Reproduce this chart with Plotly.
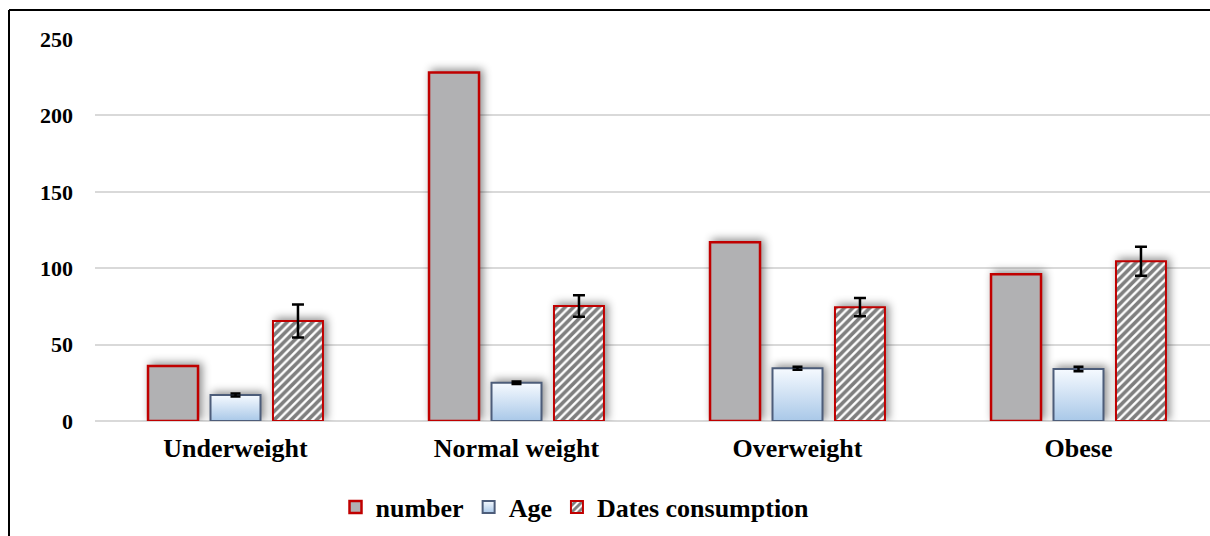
import plotly.graph_objects as go

categories = ["Underweight", "Normal weight", "Overweight", "Obese"]
number_vals = [36, 228, 117, 96]
age_vals = [17, 25, 34.5, 34]
age_err = [1, 0.8, 1, 1.5]
dates_vals = [65.5, 75.3, 74.5, 104.5]
dates_err = [10.8, 7, 6, 9.5]
y_ticks = [0, 50, 100, 150, 200, 250]

FONT = "Liberation Serif, Times New Roman, serif"
W, H = 1210, 536
L, R, T, B = 95, 0, 39, 115
pw, ph = W - L - R, H - T - B

def px(x):
    return (x - L) / pw

def py(y):
    return (H - B - y) / ph

fig = go.Figure()
fig.add_trace(go.Bar(
    name="number", x=categories, y=number_vals,
    marker=dict(color="#b1b1b3", line=dict(color="#c00000", width=2.5)),
))
fig.add_trace(go.Bar(
    name="Age", x=categories, y=age_vals,
    marker=dict(color="#d3e3f4", line=dict(color="#4d5d7a", width=2)),
    error_y=dict(type="data", array=age_err, color="black", thickness=2.5, width=5),
))
fig.add_trace(go.Bar(
    name="Dates consumption", x=categories, y=dates_vals,
    marker=dict(color="white", line=dict(color="#c00000", width=2),
                pattern=dict(shape="/", fgcolor="black", bgcolor="white", size=6, solidity=0.6)),
    error_y=dict(type="data", array=dates_err, color="black", thickness=2.5, width=6),
))

fig.update_layout(
    width=W, height=H,
    margin=dict(l=L, r=R, t=T, b=B),
    paper_bgcolor="white", plot_bgcolor="white",
    barmode="group", bargap=0.333, bargroupgap=0.2,
    font=dict(family=FONT, color="black"),
    legend=dict(orientation="h", x=px(575), xanchor="center", y=py(507), yanchor="middle",
                font=dict(family=FONT, size=26, weight="bold", color="black"),
                itemwidth=30, tracegroupgap=0),
    xaxis=dict(range=[-0.5, 3.468], showgrid=False, showline=False, ticks="", ticklabelstandoff=9,
               tickfont=dict(family=FONT, size=26, weight="bold", color="black")),
    yaxis=dict(range=[0, 250], tickvals=y_ticks, showgrid=True, gridcolor="#d9d9d9", gridwidth=1.5,
               zeroline=True, zerolinecolor="#d9d9d9", zerolinewidth=1.5, showline=False, ticks="",
               ticklabelstandoff=21,
               tickfont=dict(family=FONT, size=22, weight="bold", color="black")),
    shapes=[
        dict(type="line", xref="paper", yref="paper", x0=px(9), x1=px(1215), y0=py(10), y1=py(10),
             line=dict(color="black", width=2)),
        dict(type="line", xref="paper", yref="paper", x0=px(9), x1=px(9), y0=py(10), y1=py(540),
             line=dict(color="black", width=2)),
    ],
)

post = """
(function(){
  function fix(){
    document.body.style.margin='0';
    var gd=document.getElementById('{plot_id}');
    if(!gd) return;
    var svg=gd.querySelector('svg.main-svg');
    var defs=svg.querySelector('defs');
    var ns='http://www.w3.org/2000/svg';
    if(!document.getElementById('ageGrad')){
      var lg=document.createElementNS(ns,'linearGradient');
      lg.setAttribute('id','ageGrad');
      lg.setAttribute('x1','0');lg.setAttribute('y1','0');
      lg.setAttribute('x2','0');lg.setAttribute('y2','1');
      var s1=document.createElementNS(ns,'stop');
      s1.setAttribute('offset','0');s1.setAttribute('stop-color','#f6faff');
      var s2=document.createElementNS(ns,'stop');
      s2.setAttribute('offset','1');s2.setAttribute('stop-color','#a9c8e8');
      lg.appendChild(s1);lg.appendChild(s2);
      defs.appendChild(lg);
    }
    var traces=gd.querySelectorAll('.barlayer .trace');
    traces.forEach(function(t,i){
      t.querySelectorAll('.point path').forEach(function(p){
        if(i===1){p.style.fill='url(#ageGrad)';}
        p.style.filter='drop-shadow(3px -2px 4px rgba(0,0,0,0.45))';
      });
    });
    var lt=gd.querySelectorAll('.legend .traces');
    if(lt[1]){lt[1].querySelectorAll('path').forEach(function(p){p.style.fill='url(#ageGrad)';});}
  }
  fix(); setTimeout(fix,50); setTimeout(fix,300);
})();
"""

fig.write_html("out.html", post_script=post, config={"displayModeBar": False})
